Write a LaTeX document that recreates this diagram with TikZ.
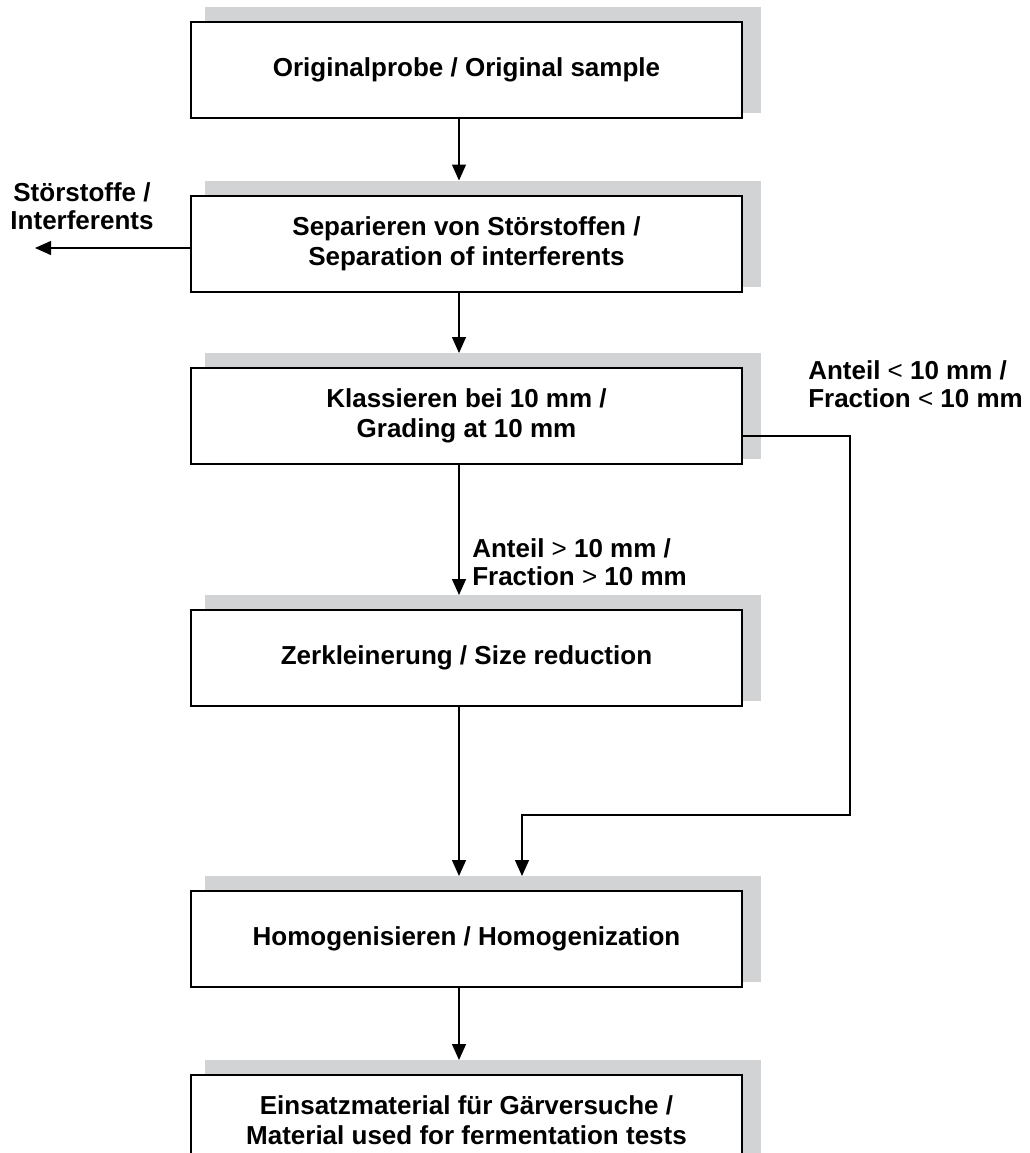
\documentclass[tikz,border=0pt]{standalone}
\usepackage{fontspec}
\setmainfont{Liberation Sans}
\usetikzlibrary{arrows.meta,backgrounds}
\definecolor{shadegray}{HTML}{D1D3D4}
\newlength\pxl \pxl=0.75pt
\begin{document}
\begin{tikzpicture}[x=0.75pt,y=-0.75pt,
  box/.style={draw, line width=1.5pt, fill=white, minimum width=551\pxl, minimum height=96\pxl, inner sep=0pt,
    font=\bfseries\fontsize{19.5pt}{22.5pt}\selectfont, align=center},
  lbl/.style={font=\bfseries\fontsize{19.5pt}{21pt}\selectfont, inner sep=0pt},
  arr/.style={line width=1pt, -{Triangle[width=10.5pt,length=12pt]}},
  shadowbox/.style={fill=shadegray}]
\useasboundingbox (0,0) rectangle (1030,1153);
\clip (0,0) rectangle (1030,1153);

\node[box] (b1) at (466.5,70) {Originalprobe / Original sample};
\node[box] (b2) at (466.5,243.5) {Separieren von Störstoffen /\\Separation of interferents};
\node[box] (b3) at (466.5,416) {Klassieren bei 10 mm /\\Grading at 10 mm};
\node[box] (b4) at (466.5,658) {Zerkleinerung / Size reduction};
\node[box] (b5) at (466.5,939) {Homogenisieren / Homogenization};
\node[box, minimum height=90\pxl] (b6) at (466.5,1120) {Einsatzmaterial für Gärversuche /\\Material used for fermentation tests};

\begin{scope}[on background layer]
  \foreach \b in {b1,b2,b3,b4,b5,b6}{
    \fill[shadowbox] ([shift={(15\pxl,14\pxl)}]\b.north west) rectangle ([shift={(18\pxl,6\pxl)}]\b.south east);
  }
\end{scope}

\node[lbl, align=center] (ls) at (82,206) {Störstoffe /\\Interferents};
\node[lbl, align=left, anchor=west] (lg) at (472,562) {Anteil {\mdseries >} 10 mm /\\Fraction {\mdseries >} 10 mm};
\node[lbl, align=left, anchor=west] (ll) at (808,384) {Anteil {\mdseries <} 10 mm /\\Fraction {\mdseries <} 10 mm};

\coordinate (lt) at (35,248);
\coordinate (c1) at (850,815);

\draw[arr] ([xshift=-7.5\pxl]b1.south) -- ([xshift=-7.5\pxl,yshift=14\pxl]b2.north);
\draw[arr] ([xshift=-7.5\pxl]b2.south) -- ([xshift=-7.5\pxl,yshift=14\pxl]b3.north);
\draw[arr] ([xshift=-7.5\pxl]b3.south) -- ([xshift=-7.5\pxl,yshift=14\pxl]b4.north);
\draw[arr] ([xshift=-7.5\pxl]b4.south) -- ([xshift=-7.5\pxl,yshift=14\pxl]b5.north);
\draw[arr] ([xshift=-7.5\pxl]b5.south) -- ([xshift=-7.5\pxl,yshift=14\pxl]b6.north);
\draw[arr] ([yshift=-4.5\pxl]b2.west) -- (lt);
\draw[arr] ([yshift=-20\pxl]b3.east) -| (c1) -| ([xshift=55.5\pxl,yshift=14\pxl]b5.north);
\end{tikzpicture}
\end{document}
